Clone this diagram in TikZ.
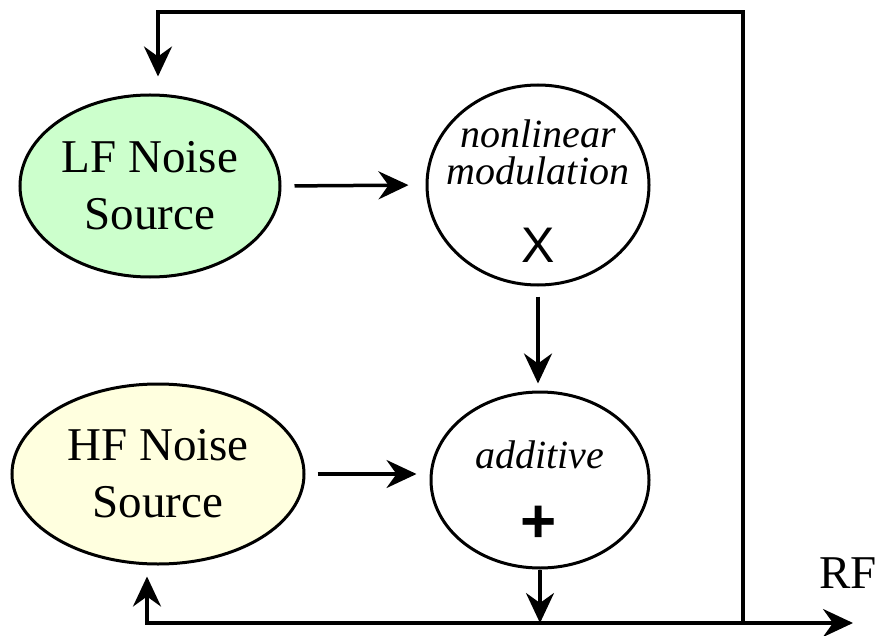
\documentclass[tikz,border=0pt]{standalone}
\usepackage{fontspec}
\setmainfont{Liberation Serif}
\newfontfamily\sansf{Liberation Sans}
\usepackage{tikz}
\usetikzlibrary{shapes.geometric,arrows.meta,positioning}
\definecolor{lfgreen}{HTML}{CCFFCC}
\definecolor{hfyellow}{HTML}{FFFFDF}
\tikzset{ell/.style={ellipse,draw,line width=3pt,inner sep=0pt},
    big/.style={font=\fontsize{47}{57}\selectfont,align=center},
    small/.style={font=\fontsize{40}{48}\selectfont\itshape,anchor=base},
    arr/.style={line width=3.5pt,-{Stealth[length=30pt,width=28pt,inset=10pt]}}}

\begin{document}
\begin{tikzpicture}[x=1pt,y=-1pt]
    \useasboundingbox (0,0) rectangle (877,636);

    \node[ell,fill=lfgreen,minimum width=260pt,minimum height=182pt] (lf) at (150,186) {};
    \node[big] (lft) at (lf.center) {LF Noise\\Source};
    \node[ell,fill=hfyellow,minimum width=292pt,minimum height=180pt] (hf) at (158,474) {};
    \node[big] (hft) at (hf.center) {HF Noise\\Source};
    \node[ell,minimum width=222pt,minimum height=200pt] (nl) at (538,185) {};
    \node[small] (nl1) at (538,148) {nonlinear};
    \node[small] (nl2) at (538,185) {modulation};
    \node[anchor=base,font=\fontsize{50}{50}\sansf] (nlx) at (538,262) {X};
    \node[ell,minimum width=218pt,minimum height=176pt] (add) at (540,480) {};
    \node[small] (add1) at (540,468) {additive};
    \node[font=\fontsize{62}{62}\sansf\bfseries] (addp) at (539,524) {+};
    \node[big,anchor=base] (rf) at (848,588) {RF};

    \coordinate (out) at (853,623);
    \coordinate (tap) at (743,623);
    \coordinate (tr) at (743,12);
    \coordinate (tl) at (158,12);
    \coordinate (bl) at (147,623);

    \draw[arr,shorten <=13pt,shorten >=17pt] (lf.east) -- (nl.west);
    \draw[arr,shorten <=12pt,shorten >=13pt] (hf.east) -- (hf.east -| add.west);
    \draw[arr,shorten <=10pt,shorten >=7pt] (nl.south) -- (nl.south |- add.north);
    \draw[arr] (add.south) -- (add.south |- bl);
    \draw[arr] (add.south |- bl) -- (out);
    \draw[arr,shorten >=11pt] (add.south |- bl) -- (bl) -- (bl |- hf.south);
    \draw[arr,shorten >=17pt] (tap) -- (tr) -- (tl) -- (tl |- lf.north);
\end{tikzpicture}
\end{document}
